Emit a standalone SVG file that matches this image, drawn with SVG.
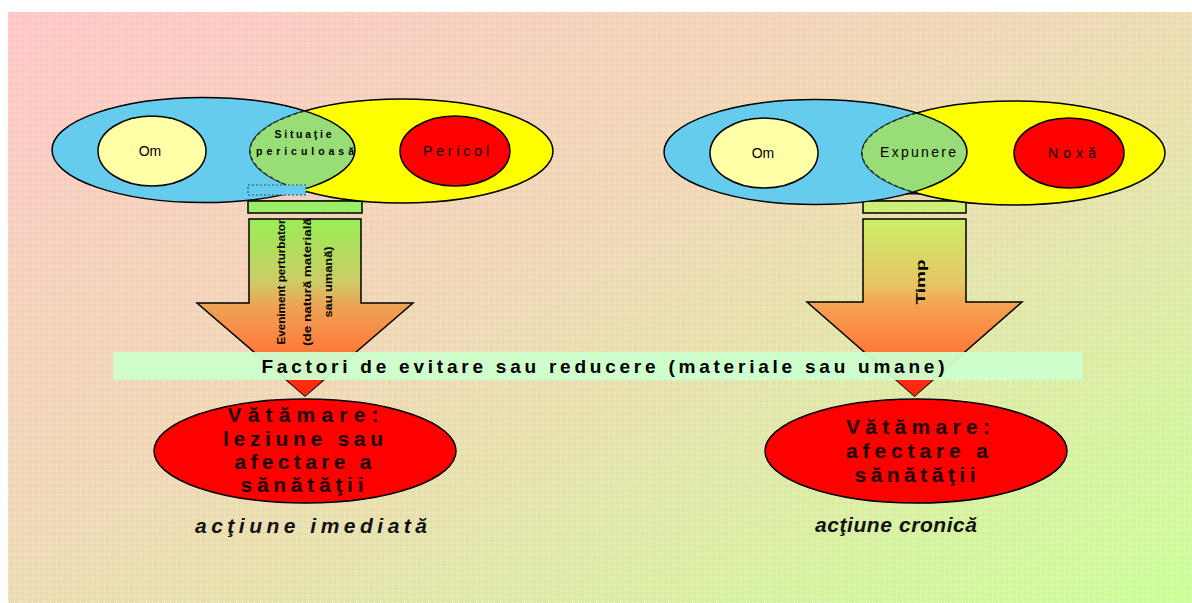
<svg xmlns="http://www.w3.org/2000/svg" width="1192" height="603" viewBox="0 0 1192 603">
<style>
.t{font-family:"Liberation Sans",Arial,sans-serif;fill:#000;text-anchor:middle}
.sm{font-size:10.5px;font-weight:bold}
.md{font-size:14px}
.big{font-size:21px;font-weight:bold;fill:#1a0000}
.it{font-size:21px;font-style:italic;font-weight:bold;fill:#111}
.ol{stroke:#000;stroke-width:1.5}
.bar{stroke:#000;stroke-width:1.5}
</style>
<defs>
<linearGradient id="bg" x1="0" y1="0" x2="1" y2="1">
<stop offset="0" stop-color="#ffc8c8"/>
<stop offset="0.5" stop-color="#eedcb4"/>
<stop offset="1" stop-color="#ccff99"/>
</linearGradient>
<pattern id="dots" width="6" height="6" patternUnits="userSpaceOnUse">
<rect x="2" y="2" width="1" height="1" fill="#ffffff" opacity="0.6"/>
<rect x="5" y="5" width="1" height="1" fill="#999966" opacity="0.25"/>
</pattern>
<linearGradient id="arrL" x1="0" y1="0" x2="0" y2="1">
<stop offset="0" stop-color="#99ee55"/>
<stop offset="0.35" stop-color="#cccc66"/>
<stop offset="0.5" stop-color="#eea155"/>
<stop offset="0.75" stop-color="#ff7a3a"/>
<stop offset="1" stop-color="#ff2a10"/>
</linearGradient>
<linearGradient id="arrR" x1="0" y1="0" x2="0" y2="1">
<stop offset="0" stop-color="#ccee66"/>
<stop offset="0.35" stop-color="#e6c866"/>
<stop offset="0.5" stop-color="#f5a050"/>
<stop offset="0.75" stop-color="#ff7a3a"/>
<stop offset="1" stop-color="#ff2a10"/>
</linearGradient>
<clipPath id="cBlue"><ellipse cx="203.5" cy="150" rx="151.5" ry="52.5"/></clipPath>
<clipPath id="cYel"><ellipse cx="401.5" cy="151" rx="151.5" ry="52"/></clipPath>
</defs>

<rect x="8" y="12" width="1184" height="591" fill="url(#bg)"/>
<rect x="8" y="12" width="1184" height="591" fill="url(#dots)"/>

<g id="connectors">
<g id="arrow-left">
<polygon points="248,201 258,195 300,189 352,194 362,201" fill="#f2cfc4" stroke="#000" stroke-width="1"/>
<rect x="248" y="201" width="114" height="12" fill="#99ee66" class="bar"/>
<polygon points="249,219 361,219 361,303 413,303 305,396 197,303 249,303" fill="url(#arrL)" class="ol"/>
<text class="t" font-size="11" font-weight="bold" textLength="125" lengthAdjust="spacingAndGlyphs" transform="translate(281,282) rotate(-90)" dy="0.35em">Eveniment perturbator</text>
<text class="t" font-size="11" font-weight="bold" textLength="128" lengthAdjust="spacingAndGlyphs" transform="translate(307.5,282) rotate(-90)" dy="0.35em">(de natură materială</text>
<text class="t" font-size="11" font-weight="bold" textLength="71" lengthAdjust="spacingAndGlyphs" transform="translate(328.5,282) rotate(-90)" dy="0.35em">sau umană)</text>
</g>
<g id="arrow-right">
<polygon points="864,201 876,194 956,194 966,201" fill="#e8d6b0" stroke="#000" stroke-width="1"/>
<rect x="863" y="186" width="103" height="7" fill="#ccee77" class="bar"/>
<rect x="863" y="201" width="103" height="12" fill="#ccee77" class="bar"/>
<polygon points="863,219 966,219 966,302 1022,302 914.5,396 807,302 863,302" fill="url(#arrR)" class="ol"/>
<text class="t" font-size="13" font-weight="bold" textLength="45" lengthAdjust="spacingAndGlyphs" transform="translate(920,282) rotate(-90)" dy="0.35em">Timp</text>
</g>
</g>

<g id="cluster-left">
<ellipse cx="203.5" cy="150" rx="151.5" ry="52.5" fill="#66ccee" class="ol"/>
<ellipse cx="401.5" cy="151" rx="151.5" ry="52" fill="#ffff00" class="ol"/>
<g id="om-left">
<ellipse cx="152" cy="151" rx="54" ry="35" fill="#ffffa8" class="ol"/>
<text class="t md" x="150" y="156">Om</text>
</g>
<g id="pericol">
<ellipse cx="455" cy="151" rx="55" ry="35" fill="#ff0000" class="ol"/>
<text class="t md" x="456" y="156" textLength="66" lengthAdjust="spacing">Pericol</text>
</g>
<g id="situatie">
<ellipse cx="401.5" cy="151" rx="151.5" ry="52" fill="#99dd77" clip-path="url(#cBlue)"/>
<ellipse cx="401.5" cy="151" rx="151.5" ry="52" fill="none" stroke="#1a3344" stroke-width="1.5" stroke-dasharray="4,3" clip-path="url(#cBlue)"/>
<ellipse cx="203.5" cy="150" rx="151.5" ry="52.5" fill="none" class="ol" clip-path="url(#cYel)"/>
<text class="t sm" x="303" y="138" textLength="57" lengthAdjust="spacing">Situaţie</text>
<text class="t sm" x="305" y="155" textLength="98" lengthAdjust="spacing">periculoasă</text>
</g>
<rect x="248" y="185" width="58" height="10" fill="#66ccee" stroke="#225566" stroke-width="1.2" stroke-dasharray="2,2"/>
</g>

<g id="cluster-right" transform="translate(612,2)">
<ellipse cx="203.5" cy="150" rx="151.5" ry="52.5" fill="#66ccee" class="ol"/>
<ellipse cx="401.5" cy="151" rx="151.5" ry="52" fill="#ffff00" class="ol"/>
<g id="om-right">
<ellipse cx="152" cy="151" rx="54" ry="35" fill="#ffffa8" class="ol"/>
<text class="t md" x="151" y="156">Om</text>
</g>
<g id="noxa">
<ellipse cx="457" cy="151" rx="55" ry="35" fill="#ff0000" class="ol"/>
<text class="t md" x="460" y="156" textLength="48" lengthAdjust="spacing">Noxă</text>
</g>
<g id="expunere">
<ellipse cx="401.5" cy="151" rx="151.5" ry="52" fill="#99dd77" clip-path="url(#cBlue)"/>
<ellipse cx="401.5" cy="151" rx="151.5" ry="52" fill="none" stroke="#1a3344" stroke-width="1.5" stroke-dasharray="4,3" clip-path="url(#cBlue)"/>
<ellipse cx="203.5" cy="150" rx="151.5" ry="52.5" fill="none" class="ol" clip-path="url(#cYel)"/>
<text class="t md" x="306" y="155" textLength="76" lengthAdjust="spacing">Expunere</text>
</g>
</g>

<g id="factori">
<rect x="113" y="352" width="969" height="28" fill="#ccffcc" opacity="0.95"/>
<text class="t" x="603" y="373" font-size="19" font-weight="bold" textLength="683" lengthAdjust="spacing">Factori de evitare sau reducere (materiale sau umane)</text>
</g>

<g id="tip-left">
<polygon points="287,380 323,380 305,396" fill="#ff2a10"/>
</g>
<g id="tip-right">
<polygon points="896.5,380 932.5,380 914.5,396" fill="#ff2a10"/>
</g>

<g id="vatamare-left">
<ellipse cx="305" cy="451" rx="151" ry="52" fill="#ff0000" class="ol"/>
<text class="t big" x="303" y="422" textLength="151" lengthAdjust="spacing">Vătămare:</text>
<text class="t big" x="303" y="446" textLength="160" lengthAdjust="spacing">leziune sau</text>
<text class="t big" x="303" y="469" textLength="137" lengthAdjust="spacing">afectare a</text>
<text class="t big" x="302" y="492" textLength="123" lengthAdjust="spacing">sănătăţii</text>
</g>
<text id="actiune-imediata" class="t it" x="311" y="533" textLength="232" lengthAdjust="spacing">acţiune imediată</text>

<g id="vatamare-right">
<ellipse cx="916" cy="451" rx="151" ry="52" fill="#ff0000" class="ol"/>
<text class="t big" x="918" y="434" textLength="144" lengthAdjust="spacing">Vătămare:</text>
<text class="t big" x="917" y="458" textLength="142" lengthAdjust="spacing">afectare a</text>
<text class="t big" x="915" y="482" textLength="121" lengthAdjust="spacing">sănătăţii</text>
</g>
<text id="actiune-cronica" class="t it" x="896" y="532" textLength="162" lengthAdjust="spacing">acţiune cronică</text>
</svg>
